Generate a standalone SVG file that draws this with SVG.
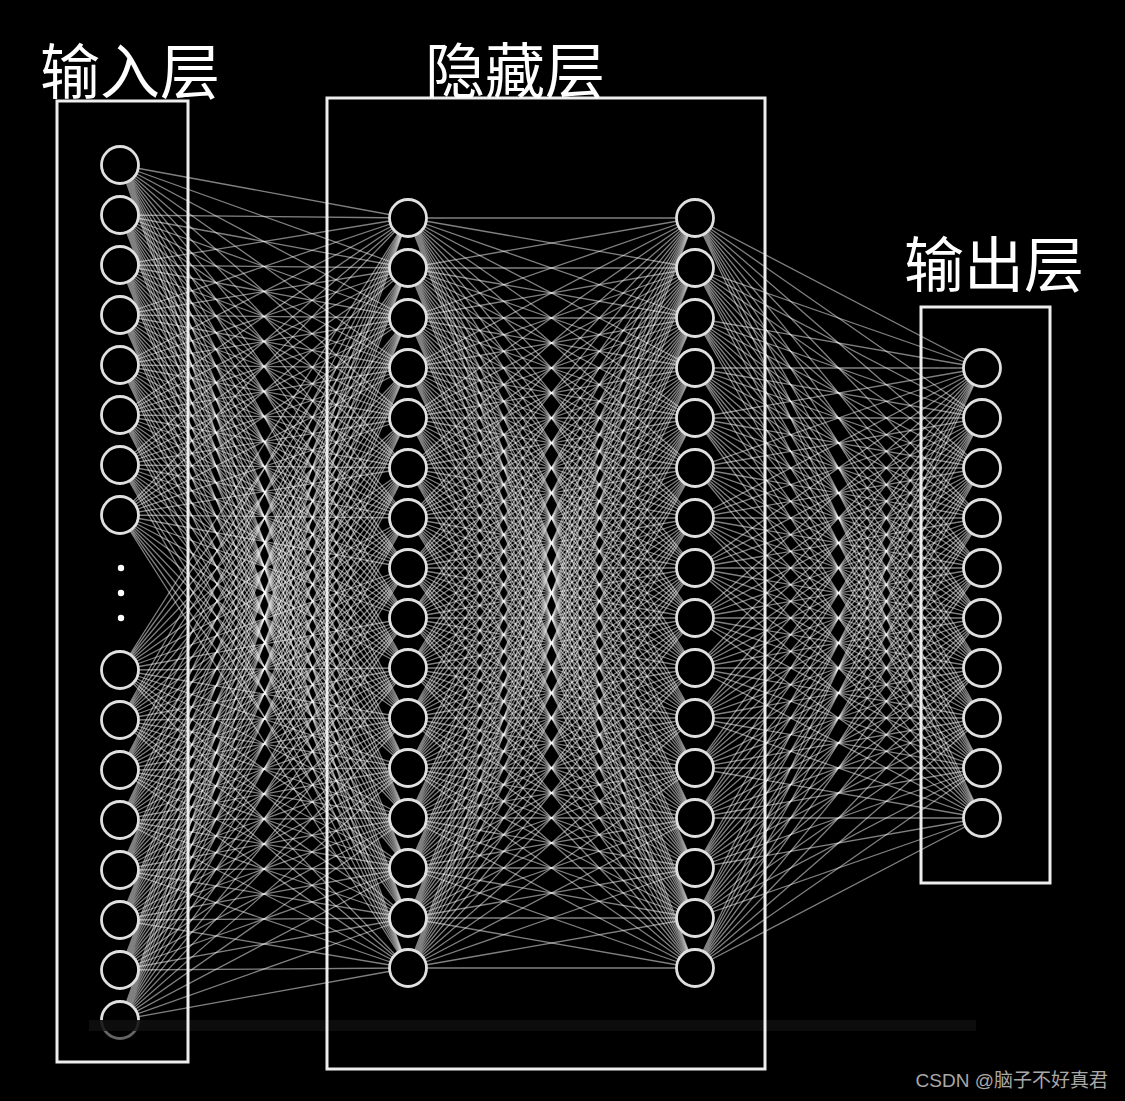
<svg xmlns="http://www.w3.org/2000/svg" width="1125" height="1101" viewBox="0 0 1125 1101">
<style>
.n{fill:#000;stroke:#e0e0e0;stroke-width:2.8}
.box{fill:none;stroke:#eeeeee;stroke-width:3}
.lbl{font-family:"Noto Sans CJK SC","Noto Sans",sans-serif;font-size:60px;fill:#fff;text-anchor:middle}
.wm{font-family:"Liberation Sans","Noto Sans CJK SC",sans-serif;font-size:19px;fill:#a8a8a8;text-anchor:end}
.e{fill:none;stroke:#fff;stroke-opacity:0.5;stroke-width:1.3}
</style>
<rect width="1125" height="1101" fill="#000"/>
<g id="connectors" class="e">
<path d="M120 165L408 218M120 165L408 268M120 165L408 318M120 165L408 368M120 165L408 418M120 165L408 468M120 165L408 518M120 165L408 568M120 165L408 618M120 165L408 668M120 165L408 718M120 165L408 768M120 165L408 818M120 165L408 868M120 165L408 918M120 165L408 968"/>
<path d="M120 215L408 218M120 215L408 268M120 215L408 318M120 215L408 368M120 215L408 418M120 215L408 468M120 215L408 518M120 215L408 568M120 215L408 618M120 215L408 668M120 215L408 718M120 215L408 768M120 215L408 818M120 215L408 868M120 215L408 918M120 215L408 968"/>
<path d="M120 265L408 218M120 265L408 268M120 265L408 318M120 265L408 368M120 265L408 418M120 265L408 468M120 265L408 518M120 265L408 568M120 265L408 618M120 265L408 668M120 265L408 718M120 265L408 768M120 265L408 818M120 265L408 868M120 265L408 918M120 265L408 968"/>
<path d="M120 315L408 218M120 315L408 268M120 315L408 318M120 315L408 368M120 315L408 418M120 315L408 468M120 315L408 518M120 315L408 568M120 315L408 618M120 315L408 668M120 315L408 718M120 315L408 768M120 315L408 818M120 315L408 868M120 315L408 918M120 315L408 968"/>
<path d="M120 365L408 218M120 365L408 268M120 365L408 318M120 365L408 368M120 365L408 418M120 365L408 468M120 365L408 518M120 365L408 568M120 365L408 618M120 365L408 668M120 365L408 718M120 365L408 768M120 365L408 818M120 365L408 868M120 365L408 918M120 365L408 968"/>
<path d="M120 415L408 218M120 415L408 268M120 415L408 318M120 415L408 368M120 415L408 418M120 415L408 468M120 415L408 518M120 415L408 568M120 415L408 618M120 415L408 668M120 415L408 718M120 415L408 768M120 415L408 818M120 415L408 868M120 415L408 918M120 415L408 968"/>
<path d="M120 465L408 218M120 465L408 268M120 465L408 318M120 465L408 368M120 465L408 418M120 465L408 468M120 465L408 518M120 465L408 568M120 465L408 618M120 465L408 668M120 465L408 718M120 465L408 768M120 465L408 818M120 465L408 868M120 465L408 918M120 465L408 968"/>
<path d="M120 515L408 218M120 515L408 268M120 515L408 318M120 515L408 368M120 515L408 418M120 515L408 468M120 515L408 518M120 515L408 568M120 515L408 618M120 515L408 668M120 515L408 718M120 515L408 768M120 515L408 818M120 515L408 868M120 515L408 918M120 515L408 968"/>
<path d="M120 670L408 218M120 670L408 268M120 670L408 318M120 670L408 368M120 670L408 418M120 670L408 468M120 670L408 518M120 670L408 568M120 670L408 618M120 670L408 668M120 670L408 718M120 670L408 768M120 670L408 818M120 670L408 868M120 670L408 918M120 670L408 968"/>
<path d="M120 720L408 218M120 720L408 268M120 720L408 318M120 720L408 368M120 720L408 418M120 720L408 468M120 720L408 518M120 720L408 568M120 720L408 618M120 720L408 668M120 720L408 718M120 720L408 768M120 720L408 818M120 720L408 868M120 720L408 918M120 720L408 968"/>
<path d="M120 770L408 218M120 770L408 268M120 770L408 318M120 770L408 368M120 770L408 418M120 770L408 468M120 770L408 518M120 770L408 568M120 770L408 618M120 770L408 668M120 770L408 718M120 770L408 768M120 770L408 818M120 770L408 868M120 770L408 918M120 770L408 968"/>
<path d="M120 820L408 218M120 820L408 268M120 820L408 318M120 820L408 368M120 820L408 418M120 820L408 468M120 820L408 518M120 820L408 568M120 820L408 618M120 820L408 668M120 820L408 718M120 820L408 768M120 820L408 818M120 820L408 868M120 820L408 918M120 820L408 968"/>
<path d="M120 870L408 218M120 870L408 268M120 870L408 318M120 870L408 368M120 870L408 418M120 870L408 468M120 870L408 518M120 870L408 568M120 870L408 618M120 870L408 668M120 870L408 718M120 870L408 768M120 870L408 818M120 870L408 868M120 870L408 918M120 870L408 968"/>
<path d="M120 920L408 218M120 920L408 268M120 920L408 318M120 920L408 368M120 920L408 418M120 920L408 468M120 920L408 518M120 920L408 568M120 920L408 618M120 920L408 668M120 920L408 718M120 920L408 768M120 920L408 818M120 920L408 868M120 920L408 918M120 920L408 968"/>
<path d="M120 970L408 218M120 970L408 268M120 970L408 318M120 970L408 368M120 970L408 418M120 970L408 468M120 970L408 518M120 970L408 568M120 970L408 618M120 970L408 668M120 970L408 718M120 970L408 768M120 970L408 818M120 970L408 868M120 970L408 918M120 970L408 968"/>
<path d="M120 1020L408 218M120 1020L408 268M120 1020L408 318M120 1020L408 368M120 1020L408 418M120 1020L408 468M120 1020L408 518M120 1020L408 568M120 1020L408 618M120 1020L408 668M120 1020L408 718M120 1020L408 768M120 1020L408 818M120 1020L408 868M120 1020L408 918M120 1020L408 968"/>
<path d="M408 218L695 218M408 218L695 268M408 218L695 318M408 218L695 368M408 218L695 418M408 218L695 468M408 218L695 518M408 218L695 568M408 218L695 618M408 218L695 668M408 218L695 718M408 218L695 768M408 218L695 818M408 218L695 868M408 218L695 918M408 218L695 968"/>
<path d="M408 268L695 218M408 268L695 268M408 268L695 318M408 268L695 368M408 268L695 418M408 268L695 468M408 268L695 518M408 268L695 568M408 268L695 618M408 268L695 668M408 268L695 718M408 268L695 768M408 268L695 818M408 268L695 868M408 268L695 918M408 268L695 968"/>
<path d="M408 318L695 218M408 318L695 268M408 318L695 318M408 318L695 368M408 318L695 418M408 318L695 468M408 318L695 518M408 318L695 568M408 318L695 618M408 318L695 668M408 318L695 718M408 318L695 768M408 318L695 818M408 318L695 868M408 318L695 918M408 318L695 968"/>
<path d="M408 368L695 218M408 368L695 268M408 368L695 318M408 368L695 368M408 368L695 418M408 368L695 468M408 368L695 518M408 368L695 568M408 368L695 618M408 368L695 668M408 368L695 718M408 368L695 768M408 368L695 818M408 368L695 868M408 368L695 918M408 368L695 968"/>
<path d="M408 418L695 218M408 418L695 268M408 418L695 318M408 418L695 368M408 418L695 418M408 418L695 468M408 418L695 518M408 418L695 568M408 418L695 618M408 418L695 668M408 418L695 718M408 418L695 768M408 418L695 818M408 418L695 868M408 418L695 918M408 418L695 968"/>
<path d="M408 468L695 218M408 468L695 268M408 468L695 318M408 468L695 368M408 468L695 418M408 468L695 468M408 468L695 518M408 468L695 568M408 468L695 618M408 468L695 668M408 468L695 718M408 468L695 768M408 468L695 818M408 468L695 868M408 468L695 918M408 468L695 968"/>
<path d="M408 518L695 218M408 518L695 268M408 518L695 318M408 518L695 368M408 518L695 418M408 518L695 468M408 518L695 518M408 518L695 568M408 518L695 618M408 518L695 668M408 518L695 718M408 518L695 768M408 518L695 818M408 518L695 868M408 518L695 918M408 518L695 968"/>
<path d="M408 568L695 218M408 568L695 268M408 568L695 318M408 568L695 368M408 568L695 418M408 568L695 468M408 568L695 518M408 568L695 568M408 568L695 618M408 568L695 668M408 568L695 718M408 568L695 768M408 568L695 818M408 568L695 868M408 568L695 918M408 568L695 968"/>
<path d="M408 618L695 218M408 618L695 268M408 618L695 318M408 618L695 368M408 618L695 418M408 618L695 468M408 618L695 518M408 618L695 568M408 618L695 618M408 618L695 668M408 618L695 718M408 618L695 768M408 618L695 818M408 618L695 868M408 618L695 918M408 618L695 968"/>
<path d="M408 668L695 218M408 668L695 268M408 668L695 318M408 668L695 368M408 668L695 418M408 668L695 468M408 668L695 518M408 668L695 568M408 668L695 618M408 668L695 668M408 668L695 718M408 668L695 768M408 668L695 818M408 668L695 868M408 668L695 918M408 668L695 968"/>
<path d="M408 718L695 218M408 718L695 268M408 718L695 318M408 718L695 368M408 718L695 418M408 718L695 468M408 718L695 518M408 718L695 568M408 718L695 618M408 718L695 668M408 718L695 718M408 718L695 768M408 718L695 818M408 718L695 868M408 718L695 918M408 718L695 968"/>
<path d="M408 768L695 218M408 768L695 268M408 768L695 318M408 768L695 368M408 768L695 418M408 768L695 468M408 768L695 518M408 768L695 568M408 768L695 618M408 768L695 668M408 768L695 718M408 768L695 768M408 768L695 818M408 768L695 868M408 768L695 918M408 768L695 968"/>
<path d="M408 818L695 218M408 818L695 268M408 818L695 318M408 818L695 368M408 818L695 418M408 818L695 468M408 818L695 518M408 818L695 568M408 818L695 618M408 818L695 668M408 818L695 718M408 818L695 768M408 818L695 818M408 818L695 868M408 818L695 918M408 818L695 968"/>
<path d="M408 868L695 218M408 868L695 268M408 868L695 318M408 868L695 368M408 868L695 418M408 868L695 468M408 868L695 518M408 868L695 568M408 868L695 618M408 868L695 668M408 868L695 718M408 868L695 768M408 868L695 818M408 868L695 868M408 868L695 918M408 868L695 968"/>
<path d="M408 918L695 218M408 918L695 268M408 918L695 318M408 918L695 368M408 918L695 418M408 918L695 468M408 918L695 518M408 918L695 568M408 918L695 618M408 918L695 668M408 918L695 718M408 918L695 768M408 918L695 818M408 918L695 868M408 918L695 918M408 918L695 968"/>
<path d="M408 968L695 218M408 968L695 268M408 968L695 318M408 968L695 368M408 968L695 418M408 968L695 468M408 968L695 518M408 968L695 568M408 968L695 618M408 968L695 668M408 968L695 718M408 968L695 768M408 968L695 818M408 968L695 868M408 968L695 918M408 968L695 968"/>
<path d="M695 218L982 368M695 218L982 418M695 218L982 468M695 218L982 518M695 218L982 568M695 218L982 618M695 218L982 668M695 218L982 718M695 218L982 768M695 218L982 818"/>
<path d="M695 268L982 368M695 268L982 418M695 268L982 468M695 268L982 518M695 268L982 568M695 268L982 618M695 268L982 668M695 268L982 718M695 268L982 768M695 268L982 818"/>
<path d="M695 318L982 368M695 318L982 418M695 318L982 468M695 318L982 518M695 318L982 568M695 318L982 618M695 318L982 668M695 318L982 718M695 318L982 768M695 318L982 818"/>
<path d="M695 368L982 368M695 368L982 418M695 368L982 468M695 368L982 518M695 368L982 568M695 368L982 618M695 368L982 668M695 368L982 718M695 368L982 768M695 368L982 818"/>
<path d="M695 418L982 368M695 418L982 418M695 418L982 468M695 418L982 518M695 418L982 568M695 418L982 618M695 418L982 668M695 418L982 718M695 418L982 768M695 418L982 818"/>
<path d="M695 468L982 368M695 468L982 418M695 468L982 468M695 468L982 518M695 468L982 568M695 468L982 618M695 468L982 668M695 468L982 718M695 468L982 768M695 468L982 818"/>
<path d="M695 518L982 368M695 518L982 418M695 518L982 468M695 518L982 518M695 518L982 568M695 518L982 618M695 518L982 668M695 518L982 718M695 518L982 768M695 518L982 818"/>
<path d="M695 568L982 368M695 568L982 418M695 568L982 468M695 568L982 518M695 568L982 568M695 568L982 618M695 568L982 668M695 568L982 718M695 568L982 768M695 568L982 818"/>
<path d="M695 618L982 368M695 618L982 418M695 618L982 468M695 618L982 518M695 618L982 568M695 618L982 618M695 618L982 668M695 618L982 718M695 618L982 768M695 618L982 818"/>
<path d="M695 668L982 368M695 668L982 418M695 668L982 468M695 668L982 518M695 668L982 568M695 668L982 618M695 668L982 668M695 668L982 718M695 668L982 768M695 668L982 818"/>
<path d="M695 718L982 368M695 718L982 418M695 718L982 468M695 718L982 518M695 718L982 568M695 718L982 618M695 718L982 668M695 718L982 718M695 718L982 768M695 718L982 818"/>
<path d="M695 768L982 368M695 768L982 418M695 768L982 468M695 768L982 518M695 768L982 568M695 768L982 618M695 768L982 668M695 768L982 718M695 768L982 768M695 768L982 818"/>
<path d="M695 818L982 368M695 818L982 418M695 818L982 468M695 818L982 518M695 818L982 568M695 818L982 618M695 818L982 668M695 818L982 718M695 818L982 768M695 818L982 818"/>
<path d="M695 868L982 368M695 868L982 418M695 868L982 468M695 868L982 518M695 868L982 568M695 868L982 618M695 868L982 668M695 868L982 718M695 868L982 768M695 868L982 818"/>
<path d="M695 918L982 368M695 918L982 418M695 918L982 468M695 918L982 518M695 918L982 568M695 918L982 618M695 918L982 668M695 918L982 718M695 918L982 768M695 918L982 818"/>
<path d="M695 968L982 368M695 968L982 418M695 968L982 468M695 968L982 518M695 968L982 568M695 968L982 618M695 968L982 668M695 968L982 718M695 968L982 768M695 968L982 818"/>
</g>
<g id="input-layer">
<g id="in1"><circle class="n" cx="120" cy="165" r="18.5"/></g>
<g id="in2"><circle class="n" cx="120" cy="215" r="18.5"/></g>
<g id="in3"><circle class="n" cx="120" cy="265" r="18.5"/></g>
<g id="in4"><circle class="n" cx="120" cy="315" r="18.5"/></g>
<g id="in5"><circle class="n" cx="120" cy="365" r="18.5"/></g>
<g id="in6"><circle class="n" cx="120" cy="415" r="18.5"/></g>
<g id="in7"><circle class="n" cx="120" cy="465" r="18.5"/></g>
<g id="in8"><circle class="n" cx="120" cy="515" r="18.5"/></g>
<g id="in-ellipsis" fill="#fff"><circle cx="121" cy="568" r="3.2"/><circle cx="121" cy="593" r="3.2"/><circle cx="121" cy="618" r="3.2"/></g>
<g id="in9"><circle class="n" cx="120" cy="670" r="18.5"/></g>
<g id="in10"><circle class="n" cx="120" cy="720" r="18.5"/></g>
<g id="in11"><circle class="n" cx="120" cy="770" r="18.5"/></g>
<g id="in12"><circle class="n" cx="120" cy="820" r="18.5"/></g>
<g id="in13"><circle class="n" cx="120" cy="870" r="18.5"/></g>
<g id="in14"><circle class="n" cx="120" cy="920" r="18.5"/></g>
<g id="in15"><circle class="n" cx="120" cy="970" r="18.5"/></g>
<g id="in16"><circle class="n" cx="120" cy="1020" r="18.5"/></g>
</g>
<g id="hidden-layer-1">
<g id="h1_1"><circle class="n" cx="408" cy="218" r="18.5"/></g>
<g id="h1_2"><circle class="n" cx="408" cy="268" r="18.5"/></g>
<g id="h1_3"><circle class="n" cx="408" cy="318" r="18.5"/></g>
<g id="h1_4"><circle class="n" cx="408" cy="368" r="18.5"/></g>
<g id="h1_5"><circle class="n" cx="408" cy="418" r="18.5"/></g>
<g id="h1_6"><circle class="n" cx="408" cy="468" r="18.5"/></g>
<g id="h1_7"><circle class="n" cx="408" cy="518" r="18.5"/></g>
<g id="h1_8"><circle class="n" cx="408" cy="568" r="18.5"/></g>
<g id="h1_9"><circle class="n" cx="408" cy="618" r="18.5"/></g>
<g id="h1_10"><circle class="n" cx="408" cy="668" r="18.5"/></g>
<g id="h1_11"><circle class="n" cx="408" cy="718" r="18.5"/></g>
<g id="h1_12"><circle class="n" cx="408" cy="768" r="18.5"/></g>
<g id="h1_13"><circle class="n" cx="408" cy="818" r="18.5"/></g>
<g id="h1_14"><circle class="n" cx="408" cy="868" r="18.5"/></g>
<g id="h1_15"><circle class="n" cx="408" cy="918" r="18.5"/></g>
<g id="h1_16"><circle class="n" cx="408" cy="968" r="18.5"/></g>
</g>
<g id="hidden-layer-2">
<g id="h2_1"><circle class="n" cx="695" cy="218" r="18.5"/></g>
<g id="h2_2"><circle class="n" cx="695" cy="268" r="18.5"/></g>
<g id="h2_3"><circle class="n" cx="695" cy="318" r="18.5"/></g>
<g id="h2_4"><circle class="n" cx="695" cy="368" r="18.5"/></g>
<g id="h2_5"><circle class="n" cx="695" cy="418" r="18.5"/></g>
<g id="h2_6"><circle class="n" cx="695" cy="468" r="18.5"/></g>
<g id="h2_7"><circle class="n" cx="695" cy="518" r="18.5"/></g>
<g id="h2_8"><circle class="n" cx="695" cy="568" r="18.5"/></g>
<g id="h2_9"><circle class="n" cx="695" cy="618" r="18.5"/></g>
<g id="h2_10"><circle class="n" cx="695" cy="668" r="18.5"/></g>
<g id="h2_11"><circle class="n" cx="695" cy="718" r="18.5"/></g>
<g id="h2_12"><circle class="n" cx="695" cy="768" r="18.5"/></g>
<g id="h2_13"><circle class="n" cx="695" cy="818" r="18.5"/></g>
<g id="h2_14"><circle class="n" cx="695" cy="868" r="18.5"/></g>
<g id="h2_15"><circle class="n" cx="695" cy="918" r="18.5"/></g>
<g id="h2_16"><circle class="n" cx="695" cy="968" r="18.5"/></g>
</g>
<g id="output-layer">
<g id="out1"><circle class="n" cx="982" cy="368" r="18.5"/></g>
<g id="out2"><circle class="n" cx="982" cy="418" r="18.5"/></g>
<g id="out3"><circle class="n" cx="982" cy="468" r="18.5"/></g>
<g id="out4"><circle class="n" cx="982" cy="518" r="18.5"/></g>
<g id="out5"><circle class="n" cx="982" cy="568" r="18.5"/></g>
<g id="out6"><circle class="n" cx="982" cy="618" r="18.5"/></g>
<g id="out7"><circle class="n" cx="982" cy="668" r="18.5"/></g>
<g id="out8"><circle class="n" cx="982" cy="718" r="18.5"/></g>
<g id="out9"><circle class="n" cx="982" cy="768" r="18.5"/></g>
<g id="out10"><circle class="n" cx="982" cy="818" r="18.5"/></g>
</g>
<rect x="89" y="1020" width="887" height="11" fill="#0e0e0e" fill-opacity="0.9"/>
<rect x="95" y="1031" width="50" height="16" fill="#000" fill-opacity="0.55"/>
<g id="input-box"><rect class="box" x="57" y="101" width="131" height="961"/></g>
<g id="hidden-box"><rect class="box" x="327" y="98" width="438" height="971"/></g>
<g id="output-box"><rect class="box" x="921" y="307" width="129" height="576"/></g>
<text class="lbl" x="130" y="94">输入层</text>
<text class="lbl" x="515" y="93">隐藏层</text>
<text class="lbl" x="994" y="287">输出层</text>
<text class="wm" x="1108" y="1087">CSDN @脑子不好真君</text>
</svg>
